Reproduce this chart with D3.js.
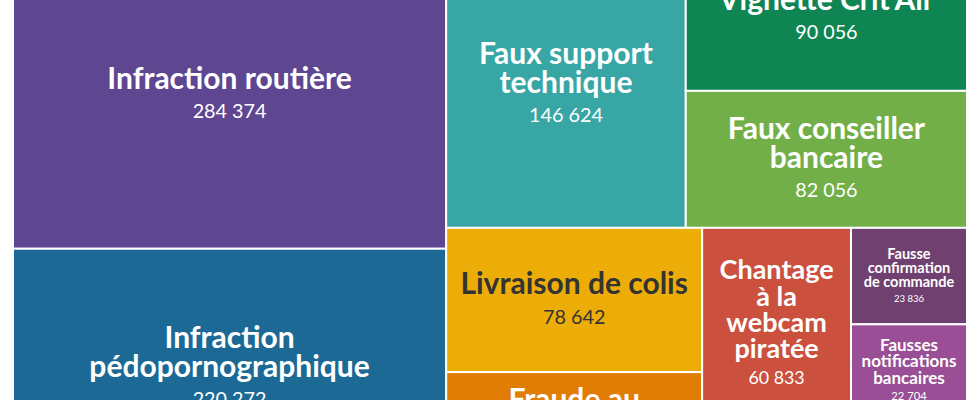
<!DOCTYPE html>
<meta charset="utf-8">
<head>
<script src="https://d3js.org/d3.v7.min.js"></script>
<style>
  body { margin: 0; background: #fff; }
  svg text { font-family: Lato, "Source Sans Pro", sans-serif; }
</style>
</head>
<body>
<svg id="chart" width="980" height="400"></svg>
<script>

// Reports per phishing theme, in the order of the source.
// "\n" = forced line break. The two unnamed entries are tiles that sit
// below the visible frame (only their room in the layout matters here).
const categories = [
  "Infraction routière",
  "Infraction pédopornographique",
  "Faux support technique",
  "Vignette Crit'Air",
  "Faux conseiller bancaire",
  "Livraison de colis",
  "Fraude au\nCPF",
  "Chantage à la webcam piratée",
  "",
  "Fausse confirmation de commande",
  "Fausses notifications bancaires",
  ""
];
const counts = [284374, 220272, 146624, 90056, 82056, 78642, 62900, 60833, 21500, 23836, 22704, 17600];
const colors = ["#5F4690", "#1D6996", "#38A6A5", "#0F8554", "#73AF48", "#EDAD08",
                "#E17C05", "#CC503E", "#94346E", "#6F4070", "#994E95", "#666666"];

// label size for the tiles that don't use the default one
const labelSize = {
  "Chantage à la webcam piratée": 27,
  "Fausse confirmation de commande": 14.5,
  "Fausses notifications bancaires": 18
};

const svg = d3.select("#chart");

// the chart is a crop of a taller treemap: it starts above and ends below the frame
const mapX = 13, mapY = -59.5, mapW = 954, mapH = 547;
const maxFont = 30;

const fr = d3.formatLocale({decimal: ",", thousands: " ", grouping: [3], currency: ["", " €"]});
const fmt = fr.format(",d");

const data = {name: "root", children: categories.map((c, i) => ({name: c, value: counts[i], color: colors[i]}))};

const root = d3.hierarchy(data).sum(d => d.value || 0);

d3.treemap()
  .tile(d3.treemapBinary)
  .size([mapW, mapH])(root);

const g = svg.append("g").attr("transform", `translate(${mapX},${mapY})`);

const measure = svg.append("text").attr("visibility", "hidden");
function textWidth(str, size, weight) {
  measure.attr("font-size", size).attr("font-weight", weight).text(str);
  return measure.node().getComputedTextLength();
}

function wrap(label, size, maxW) {
  const lines = [];
  label.split("\n").forEach(part => {
    let line = "";
    part.split(" ").forEach(w => {
      const t = line ? line + " " + w : w;
      if (line && textWidth(t, size, 700) > maxW) { lines.push(line); line = w; }
      else line = t;
    });
    lines.push(line);
  });
  return lines;
}

// wrap at the wanted size, shrink only if a word is wider than the tile
function fitLabel(d) {
  const w = d.x1 - d.x0;
  const pad = Math.min(12, w * 0.08);
  let size = labelSize[d.data.name] || maxFont, lines;
  for (; size > 8; size -= 0.5) {
    lines = wrap(d.data.name, size, w - 2 * pad);
    if (d3.max(lines, l => textWidth(l, size, 700)) <= w - 2 * pad) break;
  }
  return {size, lines};
}

const leaves = g.selectAll("g.tile")
  .data(root.leaves())
  .join("g")
  .attr("class", "tile");

leaves.append("rect")
  .attr("x", d => d.x0)
  .attr("y", d => d.y0)
  .attr("width", d => d.x1 - d.x0)
  .attr("height", d => d.y1 - d.y0)
  .attr("fill", d => d.data.color)
  .attr("stroke", "#fff")
  .attr("stroke-width", 2);

leaves.filter(d => d.data.name !== "").each(function(d) {
  const {size, lines} = fitLabel(d);
  const lh = 0.97 * size;
  const numSize = 0.66 * size;
  const cx = (d.x0 + d.x1) / 2, cy = (d.y0 + d.y1) / 2;
  const blockH = 0.7 * size + lines.length * lh;
  const base1 = cy - blockH / 2 + 0.7 * size - 0.05 * size;
  const ink = d3.lab(d.data.color).l > 70 ? "#333333" : "#ffffff";

  const t = d3.select(this).append("text")
    .attr("text-anchor", "middle")
    .attr("fill", ink);

  lines.forEach((l, i) => {
    t.append("tspan")
      .attr("x", cx)
      .attr("y", base1 + i * lh)
      .attr("font-size", size)
      .attr("font-weight", 700)
      .text(l);
  });
  t.append("tspan")
    .attr("x", cx)
    .attr("y", base1 + lines.length * lh)
    .attr("font-size", numSize)
    .attr("font-weight", 400)
    .text(fmt(d.data.value));
});

measure.remove();

</script>
</body>
</html>
